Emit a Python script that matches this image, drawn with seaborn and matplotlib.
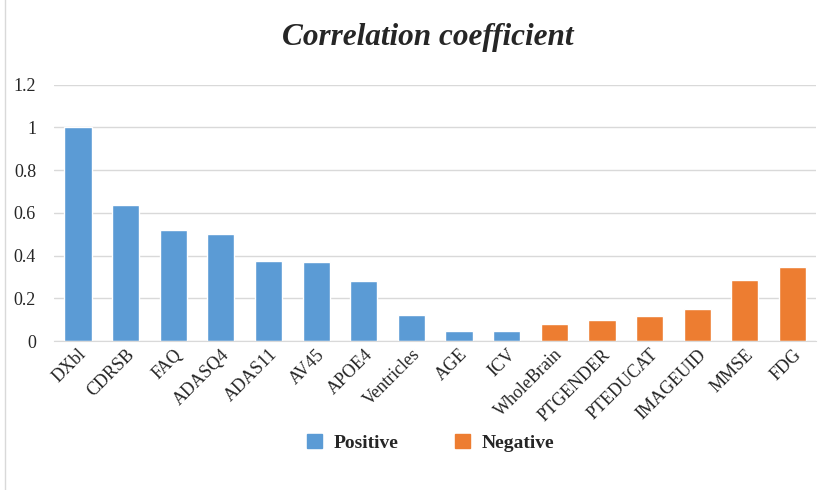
import matplotlib
matplotlib.use("Agg")
import matplotlib.pyplot as plt
import seaborn as sns
import pandas as pd
from matplotlib.patches import Rectangle, Patch

# dados do grafico
features = ["DXbl", "CDRSB", "FAQ", "ADASQ4", "ADAS11", "AV45", "APOE4", "Ventricles",
            "AGE", "ICV", "WholeBrain", "PTGENDER", "PTEDUCAT", "IMAGEUID", "MMSE", "FDG"]
coef = [1.0, 0.637, 0.518, 0.50, 0.373, 0.37, 0.281, 0.12,
        0.045, 0.045, 0.078, 0.097, 0.117, 0.148, 0.286, 0.347]
sign = ["Positive"] * 10 + ["Negative"] * 6
yticks = [0, 0.2, 0.4, 0.6, 0.8, 1, 1.2]
ytick_labels = ["0", "0.2", "0.4", "0.6", "0.8", "1", "1.2"]

df = pd.DataFrame({"Feature": features, "Coef": coef, "Sign": sign})
cores = {"Positive": "#5B9BD5", "Negative": "#ED7D31"}

sns.set_style("white")
plt.rcParams["font.family"] = ["Liberation Serif", "DejaVu Serif"]

fig = plt.figure(figsize=(8.33, 4.9), dpi=100)
ax = fig.add_axes([0.065, 0.304, 0.915, 0.523])

sns.barplot(data=df, x="Feature", y="Coef", hue="Sign", palette=cores,
            dodge=False, width=0.57, saturation=1, legend=False, ax=ax)

ax.set_ylim(0, 1.2)
ax.set_xlim(-0.5, len(features) - 0.5)
ax.set_yticks(yticks)
ax.set_yticklabels(ytick_labels, fontsize=13)
ax.yaxis.grid(True, color="#D9D9D9", linewidth=1)
ax.set_axisbelow(True)
ax.set_xlabel("")
ax.set_ylabel("")
for s in ["top", "right", "left"]:
    ax.spines[s].set_visible(False)
ax.spines["bottom"].set_color("#D9D9D9")
ax.tick_params(axis="both", length=0)
ax.tick_params(axis="y", pad=13)
plt.setp(ax.get_xticklabels(), rotation=45, ha="right", rotation_mode="anchor",
         fontsize=13)

fig.text(0.513, 0.923, "Correlation coefficient", ha="center", va="center",
         fontsize=22.5, fontweight="bold", fontstyle="italic")

handles = [Patch(color=cores[k]) for k in ["Positive", "Negative"]]
fig.legend(handles, ["Positive", "Negative"], loc="center", ncol=2,
           bbox_to_anchor=(0.517, 0.096), frameon=False, handlelength=0.77,
           handleheight=0.72, columnspacing=2.9, handletextpad=0.62,
           prop={"weight": "bold", "size": 14})

# borda do grafico
fig.patches.append(Rectangle((0.006, -0.01), 1.2, 1.2, transform=fig.transFigure,
                             fill=False, edgecolor="#D9D9D9", linewidth=1))

fig.savefig("out.png", dpi=100)
